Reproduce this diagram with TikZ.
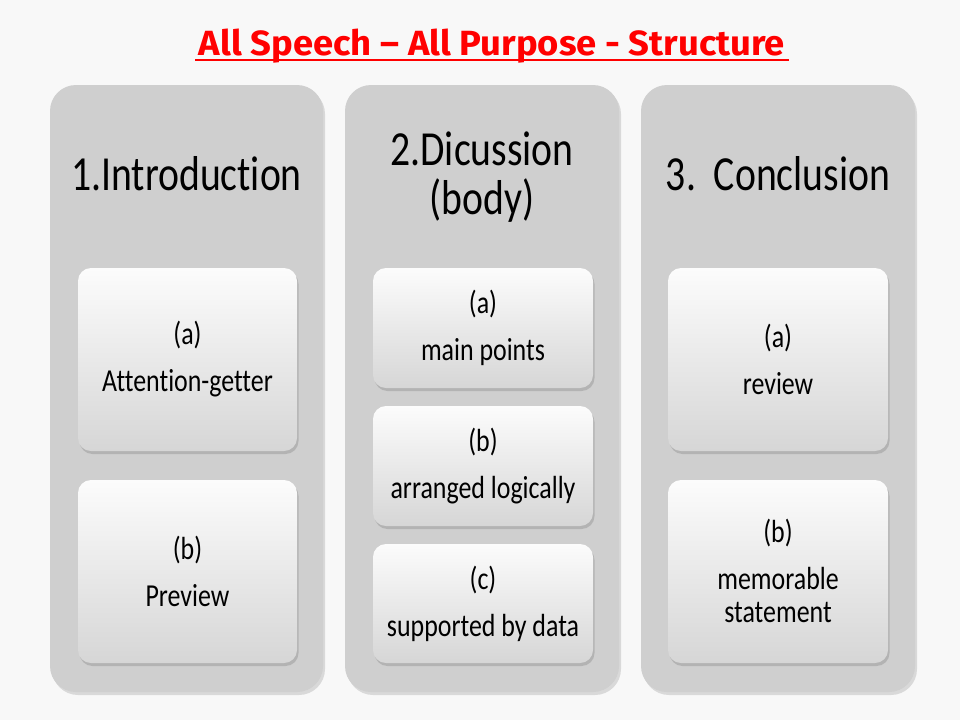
\documentclass[tikz,border=0pt]{standalone}
\usepackage{fontspec}
\setmainfont{Carlito}[FakeStretch=0.81, Ligatures=NoCommon]
\newfontfamily\titlefont{Fira Sans}[FakeStretch=1.04]
\usetikzlibrary{shadows}
\definecolor{bgc}{HTML}{F8F8F8}
\definecolor{colgray}{HTML}{CFCFCF}
\definecolor{boxtop}{HTML}{FCFCFC}
\definecolor{boxbot}{HTML}{D6D6D6}
\definecolor{titlered}{HTML}{FF0000}
\tikzset{
  column/.style={fill=colgray, draw=none, rounded corners=26pt,
    drop shadow={opacity=0.25, shadow xshift=2pt, shadow yshift=-3pt}},
  itembox/.style={rounded corners=13pt, top color=boxtop, bottom color=boxbot,
    draw=none, drop shadow={opacity=0.35, shadow xshift=1.5pt, shadow yshift=-3pt}},
  head/.style={font=\fontsize{49}{52}\selectfont, align=center, anchor=base},
  itemtext/.style={font=\fontsize{32}{33}\selectfont, align=center},
}
\begin{document}
\begin{tikzpicture}[x=1pt,y=-1pt]
\useasboundingbox[fill=bgc] (0,0) rectangle (960,720);
% title
\node[font=\titlefont\bfseries\fontsize{35}{38}\selectfont, text=titlered, anchor=base] (title) at (492,55) {All Speech – All Purpose - Structure};
\draw[titlered, line width=1.6pt] ([yshift=-5pt]title.base west) -- ([yshift=-5pt]title.base east);
% columns
\path[column] (50,85) rectangle (323,692);
\path[column] (345,85) rectangle (619,692);
\path[column] (641,85) rectangle (915,692);
\node[head] (h1) at (186.5,190) {1.Introduction};
\node[head, font=\fontsize{49}{49}\selectfont] (h2) at (482,214) {2.Dicussion\\(body)};
\node[head] (h3) at (778,190) {3.\ \ Conclusion};
% column 1
\path[itembox] (78,268) rectangle (297,451);
\path[itembox] (78,480) rectangle (297,663);
\node[itemtext] (i1a) at (187.5,359) {(a)\\[14pt]Attention-getter};
\node[itemtext] (i1b) at (187.5,571) {(b)\\[14pt]Preview};
% column 2
\path[itembox] (373,268) rectangle (593,388);
\path[itembox] (373,406) rectangle (593,526);
\path[itembox] (373,544) rectangle (593,663);
\node[itemtext] (i2a) at (483,328) {(a)\\[14pt]main points};
\node[itemtext] (i2b) at (483,466) {(b)\\[14pt]arranged logically};
\node[itemtext] (i2c) at (483,604) {(c)\\[14pt]supported by data};
% column 3
\path[itembox] (668,268) rectangle (888,451);
\path[itembox] (668,480) rectangle (888,663);
\node[itemtext] (i3a) at (778,359) {(a)\\[14pt]review};
\node[itemtext] (i3b) at (778,571) {(b)\\[14pt]memorable\\statement};
\end{tikzpicture}
\end{document}
